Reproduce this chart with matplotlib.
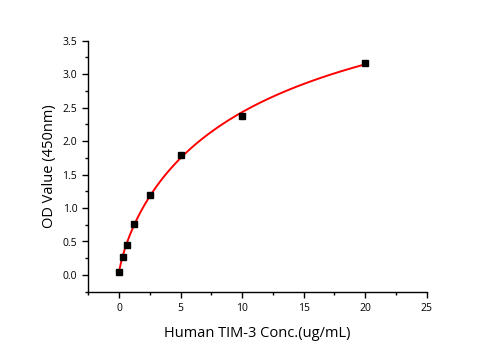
import numpy as np
import matplotlib
matplotlib.use("Agg")
import matplotlib.pyplot as plt
from matplotlib.ticker import MultipleLocator

conc = [0, 0.3125, 0.625, 1.25, 2.5, 5, 10, 20]
od = [0.05, 0.27, 0.45, 0.76, 1.19, 1.79, 2.37, 3.17]
x_label = "Human TIM-3 Conc.(ug/mL)"
y_label = "OD Value (450nm)"

plt.rcParams["font.family"] = ["Open Sans", "DejaVu Sans"]


def fit_4pl(x, y):
    # grid over slope/midpoint, linear least squares for the asymptotes
    x = np.asarray(x, float)
    y = np.asarray(y, float)
    best = None
    for b in np.linspace(0.3, 2.0, 86):
        for c in np.geomspace(0.5, 500, 300):
            f = 1.0 / (1.0 + (x / c) ** b)
            A = np.column_stack([np.ones_like(f), f])
            coef, *_ = np.linalg.lstsq(A, y, rcond=None)
            err = np.sum((A @ coef - y) ** 2)
            if best is None or err < best[0]:
                best = (err, b, c, coef)
    _, b, c, (d, k) = best
    return lambda t: d + k / (1.0 + (t / c) ** b)


model = fit_4pl(conc, od)
xs = np.linspace(0, max(conc), 400)

fig = plt.figure(figsize=(4.96, 3.5), dpi=100)
ax = fig.add_axes([0.178, 0.1666, 0.682, 0.717])

ax.plot(xs, model(xs), color="red", lw=1.4, zorder=2)
ax.plot(conc, od, ls="none", marker="s", ms=5, color="black", zorder=3)

ax.set_xlim(-2.5, 25)
ax.set_ylim(-0.25, 3.5)
ax.xaxis.set_major_locator(MultipleLocator(5))
ax.xaxis.set_minor_locator(MultipleLocator(2.5))
ax.yaxis.set_major_locator(MultipleLocator(0.5))
ax.yaxis.set_minor_locator(MultipleLocator(0.25))
ax.set_yticks(np.arange(0, 3.51, 0.5))
ax.set_yticklabels([f"{v:.1f}" for v in np.arange(0, 3.51, 0.5)])

for s in ("top", "right"):
    ax.spines[s].set_visible(False)
for s in ("left", "bottom"):
    ax.spines[s].set_linewidth(1.0)

ax.tick_params(which="major", direction="out", length=4, width=1, labelsize=7.5, pad=4)
ax.tick_params(which="minor", direction="out", length=2.5, width=1)

ax.set_xlabel(x_label, fontsize=10.5, labelpad=9)
ax.set_ylabel(y_label, fontsize=10.5, labelpad=4)

fig.savefig("out.png", dpi=100)
